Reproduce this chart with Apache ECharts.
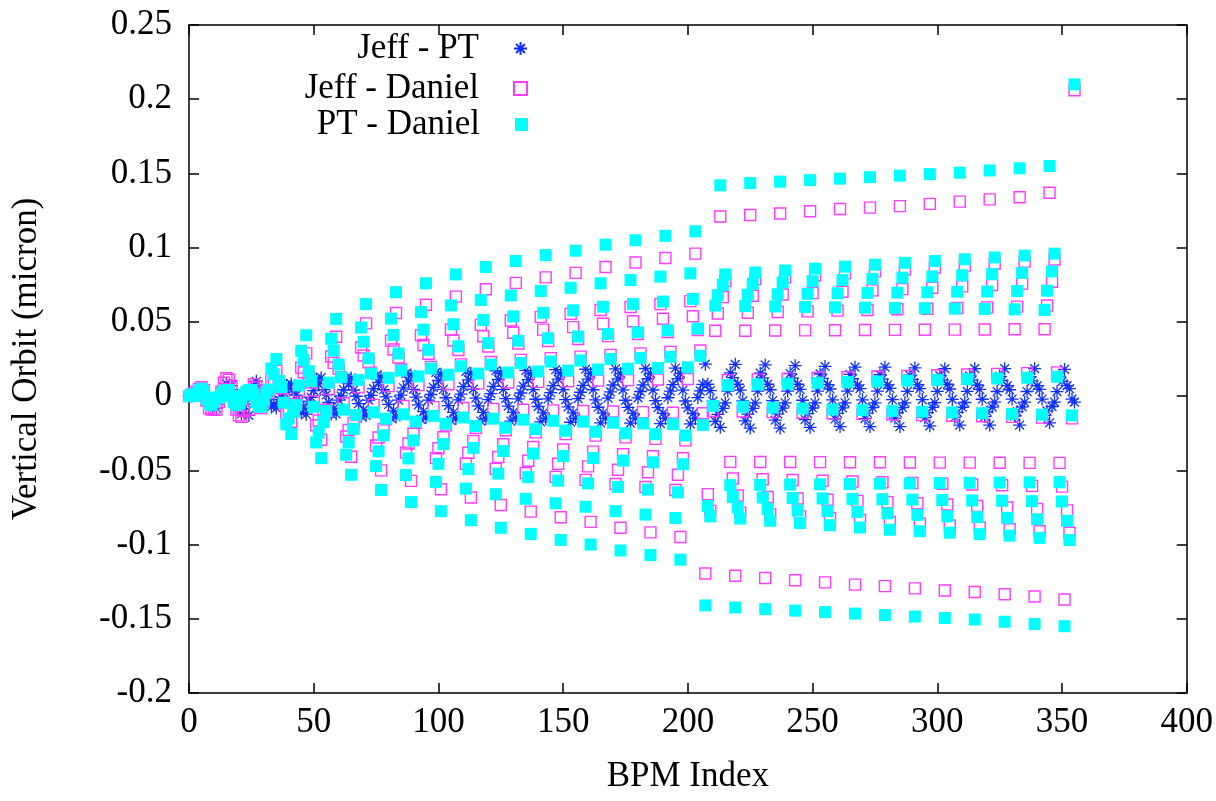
<!DOCTYPE html>
<html>
<head>
<meta charset="utf-8">
<script src="https://cdn.jsdelivr.net/npm/echarts@6/dist/echarts.min.js"></script>
<style>
html,body{margin:0;padding:0;background:#fff;}
#chart{width:1216px;height:801px;}
</style>
</head>
<body>
<div id="chart"></div>
<script>
// BPM index = position in the arrays (0 .. 355)
var seriesNames = ['Jeff - PT', 'Jeff - Daniel', 'PT - Daniel'];
var xTicks = [0, 50, 100, 150, 200, 250, 300, 350, 400];
var yTicks = [-0.2, -0.15, -0.1, -0.05, 0, 0.05, 0.1, 0.15, 0.2, 0.25];

var ptDaniel = [
  0.000, 0.001, 0.000, 0.002, 0.004, 0.005, 0.003, -0.002, -0.005, -0.006, -0.004, -0.001, -0.001, 0.001, 0.003, 0.004,
  0.004, 0.000, -0.004, -0.006, -0.005, -0.002, 0.001, 0.003, 0.004, 0.004, 0.001, -0.004, -0.007, -0.007, -0.003, 0.002,
  0.0044, 0.0186, 0.0148, 0.025, 0.0103, 0.0061, -0.0044, -0.019, -0.015, -0.0255, -0.0106, -0.0061,
  0.0072, 0.0305, 0.0242, 0.041, 0.0168, 0.0100, -0.0072, -0.0312, -0.0246, -0.0418, -0.0174, -0.0100,
  0.0091, 0.0387, 0.0307, 0.052, 0.0213, 0.0127, -0.0091, -0.0395, -0.0312, -0.0530, -0.0221, -0.0127,
  0.0109, 0.0462, 0.0366, 0.062, 0.0254, 0.0152, -0.0109, -0.0471, -0.0372, -0.0632, -0.0264, -0.0152,
  0.0123, 0.0522, 0.0413, 0.070, 0.0287, 0.0172, -0.0123, -0.0532, -0.042, -0.0714, -0.0298, -0.0172,
  0.0133, 0.0566, 0.0448, 0.076, 0.0312, 0.0186, -0.0133, -0.0578, -0.0456, -0.0775, -0.0323, -0.0186,
  0.0144, 0.0611, 0.0484, 0.082, 0.0336, 0.0201, -0.0144, -0.0623, -0.0492, -0.0836, -0.0349, -0.0201,
  0.0152, 0.0648, 0.0513, 0.087, 0.0357, 0.0213, -0.0152, -0.0661, -0.0522, -0.0887, -0.037, -0.0213,
  0.0159, 0.0678, 0.0537, 0.091, 0.0373, 0.0223, -0.0159, -0.0692, -0.0546, -0.0928, -0.0387, -0.0223,
  0.0166, 0.0708, 0.0561, 0.095, 0.039, 0.0233, -0.0166, -0.0722, -0.057, -0.0969, -0.0404, -0.0233,
  0.0172, 0.073, 0.0578, 0.098, 0.0402, 0.024, -0.0172, -0.0745, -0.0588, -0.100, -0.0417, -0.024,
  0.0179, 0.076, 0.0602, 0.102, 0.0418, 0.025, -0.0179, -0.0775, -0.0612, -0.104, -0.0434, -0.025,
  0.0184, 0.0782, 0.062, 0.105, 0.043, 0.0257, -0.0184, -0.0798, -0.063, -0.1071, -0.0446, -0.0257,
  0.0189, 0.0805, 0.0637, 0.108, 0.0443, 0.0265, -0.0189, -0.0821, -0.0648, -0.1102, -0.0459, -0.0265,
  0.0194, 0.0827, 0.0655, 0.111, 0.0455, 0.0272, -0.0194,
  -0.141, -0.074, -0.081, -0.0066, 0.061, 0.068, 0.142, 0.075, 0.082, 0.0074, -0.060, -0.068,
  -0.1424, -0.075, -0.0825, -0.0072, 0.0607, 0.0683, 0.1435, 0.0758, 0.0833, 0.0079, -0.0598, -0.0683,
  -0.1435, -0.076, -0.084, -0.0078, 0.0604, 0.0686, 0.1445, 0.0766, 0.0846, 0.0084, -0.0596, -0.0686,
  -0.1445, -0.077, -0.0855, -0.0084, 0.0601, 0.0689, 0.1455, 0.0774, 0.0859, 0.0089, -0.0594, -0.0689,
  -0.1455, -0.0775, -0.087, -0.009, 0.0598, 0.0692, 0.1465, 0.0782, 0.0872, 0.0094, -0.0592, -0.0692,
  -0.1465, -0.078, -0.0885, -0.0095, 0.0596, 0.0695, 0.1475, 0.079, 0.0885, 0.0099, -0.059, -0.0695,
  -0.1475, -0.079, -0.09, -0.010, 0.0594, 0.0697, 0.1485, 0.0798, 0.0898, 0.0104, -0.0588, -0.0697,
  -0.1485, -0.080, -0.091, -0.0105, 0.0592, 0.070, 0.1495, 0.0806, 0.091, 0.0109, -0.0586, -0.070,
  -0.1495, -0.081, -0.092, -0.011, 0.059, 0.0703, 0.1505, 0.0814, 0.0922, 0.0114, -0.0584, -0.0703,
  -0.1505, -0.0815, -0.093, -0.0115, 0.0587, 0.0705, 0.152, 0.0822, 0.0934, 0.0119, -0.0582, -0.0705,
  -0.152, -0.082, -0.094, -0.012, 0.0584, 0.0708, 0.1535, 0.083, 0.0947, 0.0124, -0.0581, -0.0708,
  -0.1535, -0.083, -0.0955, -0.0125, 0.058, 0.071, 0.155, 0.084, 0.096, 0.013, -0.058, -0.071,
  -0.155, -0.084, -0.097, -0.013, 0.210
];

var jeffDaniel = [
  0.000, 0.001, 0.002, 0.003, 0.005, 0.006, 0.004, -0.003, -0.008, -0.009, -0.009, -0.009, -0.004, 0.003, 0.009, 0.012,
  0.011, 0.007, -0.002, -0.009, -0.013, -0.014, -0.010, -0.002, -0.009, 0.004, 0.008, 0.006, -0.004, -0.008, -0.004, 0.004,
  0.0020, 0.0113, 0.0095, 0.017, 0.0079, 0.0054, -0.0020, -0.0116, -0.0097, -0.0173, -0.0077, -0.0054,
  0.0035, 0.0192, 0.0161, 0.0288, 0.0134, 0.0092, -0.0035, -0.0196, -0.0164, -0.0294, -0.0130, -0.0092,
  0.0048, 0.0267, 0.0224, 0.040, 0.0186, 0.0128, -0.0048, -0.0272, -0.0228, -0.0408, -0.018, -0.0128,
  0.0059, 0.0327, 0.0274, 0.049, 0.0227, 0.0157, -0.0059, -0.0333, -0.0279, -0.050, -0.0221, -0.0157,
  0.0067, 0.0374, 0.0314, 0.056, 0.026, 0.0179, -0.0067, -0.0381, -0.0319, -0.0571, -0.0252, -0.0179,
  0.0074, 0.041, 0.0344, 0.0615, 0.0285, 0.0197, -0.0074, -0.0418, -0.0351, -0.0627, -0.0277, -0.0197,
  0.008, 0.0447, 0.0375, 0.067, 0.0311, 0.0214, -0.008, -0.0456, -0.0382, -0.0683, -0.0302, -0.0214,
  0.0086, 0.048, 0.0403, 0.072, 0.0334, 0.023, -0.0086, -0.049, -0.041, -0.0734, -0.0324, -0.023,
  0.0092, 0.0509, 0.0427, 0.0763, 0.0354, 0.0244, -0.0092, -0.0519, -0.0435, -0.0778, -0.0343, -0.0244,
  0.0096, 0.0534, 0.0448, 0.080, 0.0371, 0.0256, -0.0096, -0.0544, -0.0456, -0.0816, -0.036, -0.0256,
  0.010, 0.0554, 0.0465, 0.083, 0.0385, 0.0266, -0.010, -0.0564, -0.0473, -0.0847, -0.0374, -0.0266,
  0.0104, 0.058, 0.0487, 0.087, 0.0404, 0.0278, -0.0104, -0.0592, -0.0496, -0.0887, -0.0392, -0.0278,
  0.0108, 0.060, 0.0504, 0.090, 0.0418, 0.0288, -0.0108, -0.0612, -0.0513, -0.0918, -0.0405, -0.0288,
  0.0112, 0.062, 0.0521, 0.093, 0.0432, 0.0298, -0.0112, -0.0632, -0.053, -0.0949, -0.0419, -0.0298,
  0.0115, 0.064, 0.0538, 0.096, 0.0445, 0.0307, -0.0115,
  -0.1195, -0.066, -0.0773, -0.010, 0.044, 0.0557, 0.121, 0.0667, 0.0775, 0.0108, -0.0443, -0.0555,
  -0.121, -0.067, -0.0785, -0.0104, 0.044, 0.0562, 0.122, 0.0676, 0.0788, 0.0113, -0.0444, -0.056,
  -0.1225, -0.068, -0.0797, -0.0108, 0.0442, 0.0567, 0.123, 0.0685, 0.0801, 0.0118, -0.0444, -0.0565,
  -0.124, -0.069, -0.081, -0.0112, 0.0443, 0.0571, 0.1245, 0.0694, 0.0814, 0.0123, -0.0445, -0.057,
  -0.1255, -0.0698, -0.0822, -0.0116, 0.0444, 0.0576, 0.126, 0.0703, 0.0827, 0.0127, -0.0446, -0.0575,
  -0.127, -0.0706, -0.0835, -0.012, 0.0445, 0.058, 0.127, 0.0712, 0.084, 0.0132, -0.0446, -0.058,
  -0.128, -0.0714, -0.0848, -0.0124, 0.0446, 0.0585, 0.128, 0.0721, 0.0853, 0.0136, -0.0447, -0.0585,
  -0.1295, -0.0722, -0.086, -0.0128, 0.0447, 0.0589, 0.1295, 0.073, 0.0866, 0.0141, -0.0448, -0.059,
  -0.131, -0.073, -0.0872, -0.0132, 0.0448, 0.0594, 0.131, 0.0739, 0.0879, 0.0146, -0.0448, -0.0595,
  -0.132, -0.074, -0.0885, -0.0136, 0.0449, 0.0598, 0.1325, 0.0748, 0.0893, 0.015, -0.0449, -0.060,
  -0.1335, -0.075, -0.0897, -0.014, 0.045, 0.0603, 0.134, 0.0758, 0.0906, 0.0155, -0.045, -0.0605,
  -0.135, -0.076, -0.091, -0.0145, 0.045, 0.061, 0.137, 0.077, 0.092, 0.016, -0.045, -0.061,
  -0.137, -0.077, -0.092, -0.015, 0.206
];

var jeffPT = [
  0.000, 0.000, 0.002, 0.001, 0.001, 0.001, 0.001, -0.001, -0.003, -0.003, -0.005, -0.008, -0.003, 0.002, 0.006, 0.008,
  0.007, 0.007, 0.002, -0.003, -0.008, -0.012, -0.011, -0.005, -0.013, 0.000, 0.007, 0.010, 0.003, -0.001, 0.001, 0.002,
  -0.0024, -0.0073, -0.0053, -0.008, -0.0024, -0.0007, 0.0024, 0.0074, 0.0053, 0.0082, 0.0029, 0.0007,
  -0.0037, -0.0113, -0.0081, -0.0122, -0.0034, -0.0008, 0.0037, 0.0116, 0.0082, 0.0124, 0.0044, 0.0008,
  -0.0043, -0.012, -0.0083, -0.012, -0.0027, 0.0001, 0.0043, 0.0123, 0.0084, 0.0122, 0.0041, -0.0001,
  -0.005, -0.0135, -0.0092, -0.013, -0.0027, 0.0005, 0.005, 0.0138, 0.0093, 0.0132, 0.0043, -0.0005,
  -0.0056, -0.0148, -0.0099, -0.014, -0.0027, 0.0007, 0.0056, 0.0151, 0.0101, 0.0143, 0.0046, -0.0007,
  -0.0059, -0.0156, -0.0104, -0.0145, -0.0027, 0.0011, 0.0059, 0.016, 0.0105, 0.0148, 0.0046, -0.0011,
  -0.0064, -0.0164, -0.0109, -0.015, -0.0025, 0.0013, 0.0064, 0.0167, 0.011, 0.0153, 0.0047, -0.0013,
  -0.0066, -0.0168, -0.011, -0.015, -0.0023, 0.0017, 0.0066, 0.0171, 0.0112, 0.0153, 0.0046, -0.0017,
  -0.0067, -0.0169, -0.011, -0.0147, -0.0019, 0.0021, 0.0067, 0.0173, 0.0111, 0.015, 0.0044, -0.0021,
  -0.007, -0.0174, -0.0113, -0.015, -0.0019, 0.0023, 0.007, 0.0178, 0.0114, 0.0153, 0.0044, -0.0023,
  -0.0072, -0.0176, -0.0113, -0.015, -0.0017, 0.0026, 0.0072, 0.0181, 0.0115, 0.0153, 0.0043, -0.0026,
  -0.0075, -0.018, -0.0115, -0.015, -0.0014, 0.0028, 0.0075, 0.0183, 0.0116, 0.0153, 0.0042, -0.0028,
  -0.0076, -0.0182, -0.0116, -0.015, -0.0012, 0.0031, 0.0076, 0.0186, 0.0117, 0.0153, 0.0041, -0.0031,
  -0.0077, -0.0185, -0.0116, -0.015, -0.0011, 0.0033, 0.0077, 0.0189, 0.0118, 0.0153, 0.004, -0.0033,
  -0.0079, -0.0187, -0.0117, -0.015, -0.001, 0.0035, 0.0079,
  0.0215, 0.008, 0.0037, -0.0034, -0.017, -0.0123, -0.021, -0.0083, -0.0045, 0.0034, 0.0157, 0.0125,
  0.0214, 0.008, 0.004, -0.0032, -0.0167, -0.0121, -0.0215, -0.0082, -0.0045, 0.0034, 0.0154, 0.0123,
  0.021, 0.008, 0.0043, -0.003, -0.0162, -0.0119, -0.0215, -0.0081, -0.0045, 0.0034, 0.0152, 0.0121,
  0.0205, 0.008, 0.0045, -0.0028, -0.0158, -0.0118, -0.021, -0.008, -0.0045, 0.0034, 0.0149, 0.0119,
  0.020, 0.0077, 0.0048, -0.0026, -0.0154, -0.0116, -0.0205, -0.0079, -0.0045, 0.0033, 0.0146, 0.0117,
  0.0195, 0.0074, 0.005, -0.0025, -0.0151, -0.0115, -0.0205, -0.0078, -0.0045, 0.0033, 0.0144, 0.0115,
  0.0195, 0.0076, 0.0052, -0.0024, -0.0148, -0.0112, -0.0205, -0.0077, -0.0045, 0.0032, 0.0141, 0.0112,
  0.019, 0.0078, 0.005, -0.0023, -0.0145, -0.0111, -0.020, -0.0076, -0.0044, 0.0032, 0.0138, 0.011,
  0.0185, 0.008, 0.0048, -0.0022, -0.0142, -0.0109, -0.0195, -0.0075, -0.0043, 0.0032, 0.0136, 0.0108,
  0.0185, 0.0075, 0.0045, -0.0021, -0.0138, -0.0107, -0.0195, -0.0074, -0.0041, 0.0031, 0.0133, 0.0105,
  0.0185, 0.007, 0.0043, -0.002, -0.0134, -0.0105, -0.0195, -0.0072, -0.0041, 0.0031, 0.0131, 0.0103,
  0.0185, 0.007, 0.0045, -0.002, -0.013, -0.010, -0.018, -0.007, -0.004, 0.003, 0.013, 0.010,
  0.018, 0.007, 0.005, -0.002, -0.004
];

function pairs(arr) {
  var out = [];
  for (var i = 0; i < arr.length; i++) out.push([i, arr[i]]);
  return out;
}

var FONT = 'Liberation Serif';
var FS = 35;
var starPath = 'path://M5,0L5,10M0,5L10,5M1.6,1.6L8.4,8.4M1.6,8.4L8.4,1.6';

var chart = echarts.init(document.getElementById('chart'), null, {renderer: 'canvas'});

function legendFor(name, centerY) {
  return {
    data: [name],
    orient: 'vertical',
    align: 'right',
    padding: 0,
    right: 1216 - 528,
    top: centerY - 19,
    itemWidth: 13,
    itemHeight: 13,
    selectedMode: false,
    textStyle: {fontFamily: FONT, fontSize: FS, color: '#000', padding: [0, 30, 0, 0]}
  };
}

var commonX = {
  type: 'value', min: xTicks[0], max: xTicks[xTicks.length - 1], interval: 50,
  axisLine: {show: true, onZero: false, lineStyle: {color: '#000', width: 1.5}},
  axisTick: {show: true, inside: true, length: 10, lineStyle: {color: '#000', width: 1.5}},
  splitLine: {show: false}
};
var commonY = {
  type: 'value', min: yTicks[0], max: yTicks[yTicks.length - 1], interval: 0.05,
  axisLine: {show: true, onZero: false, lineStyle: {color: '#000', width: 1.5}},
  axisTick: {show: true, inside: true, length: 10, lineStyle: {color: '#000', width: 1.5}},
  splitLine: {show: false}
};

var option = {
  backgroundColor: '#fff',
  animation: false,
  grid: {left: 189, right: 28, top: 25, bottom: 108, containLabel: false},
  legend: [
    legendFor(seriesNames[0], 50),
    legendFor(seriesNames[1], 90),
    legendFor(seriesNames[2], 126)
  ],
  xAxis: [
    Object.assign({}, commonX, {
      position: 'bottom',
      name: 'BPM Index', nameLocation: 'middle', nameGap: 66,
      nameTextStyle: {fontFamily: FONT, fontSize: FS, color: '#000'},
      axisLabel: {fontFamily: FONT, fontSize: FS, color: '#000', margin: 12}
    }),
    Object.assign({}, commonX, {position: 'top', axisLabel: {show: false}})
  ],
  yAxis: [
    Object.assign({}, commonY, {
      position: 'left',
      name: 'Vertical Orbit (micron)', nameLocation: 'middle', nameGap: 145,
      nameTextStyle: {fontFamily: FONT, fontSize: FS, color: '#000'},
      axisLabel: {fontFamily: FONT, fontSize: FS, color: '#000', margin: 17,
        formatter: function (v) { return String(Math.round(v * 100) / 100); }}
    }),
    Object.assign({}, commonY, {position: 'right', axisLabel: {show: false}})
  ],
  series: [
    {
      name: seriesNames[0], type: 'scatter', xAxisIndex: 0, yAxisIndex: 0,
      symbol: starPath, symbolSize: 13,
      itemStyle: {color: '#1030ff', borderColor: '#1030ff', borderWidth: 1.3, opacity: 1},
      data: pairs(jeffPT)
    },
    {
      name: seriesNames[1], type: 'scatter', xAxisIndex: 0, yAxisIndex: 0,
      symbol: 'rect', symbolSize: 11,
      itemStyle: {color: 'rgba(255,255,255,0)', borderColor: '#ff3cff', borderWidth: 1.4, opacity: 1},
      data: pairs(jeffDaniel)
    },
    {
      name: seriesNames[2], type: 'scatter', xAxisIndex: 0, yAxisIndex: 0,
      symbol: 'rect', symbolSize: 12,
      itemStyle: {color: '#00ffff', opacity: 1},
      data: pairs(ptDaniel)
    }
  ]
};
chart.setOption(option);
</script>
</body>
</html>
